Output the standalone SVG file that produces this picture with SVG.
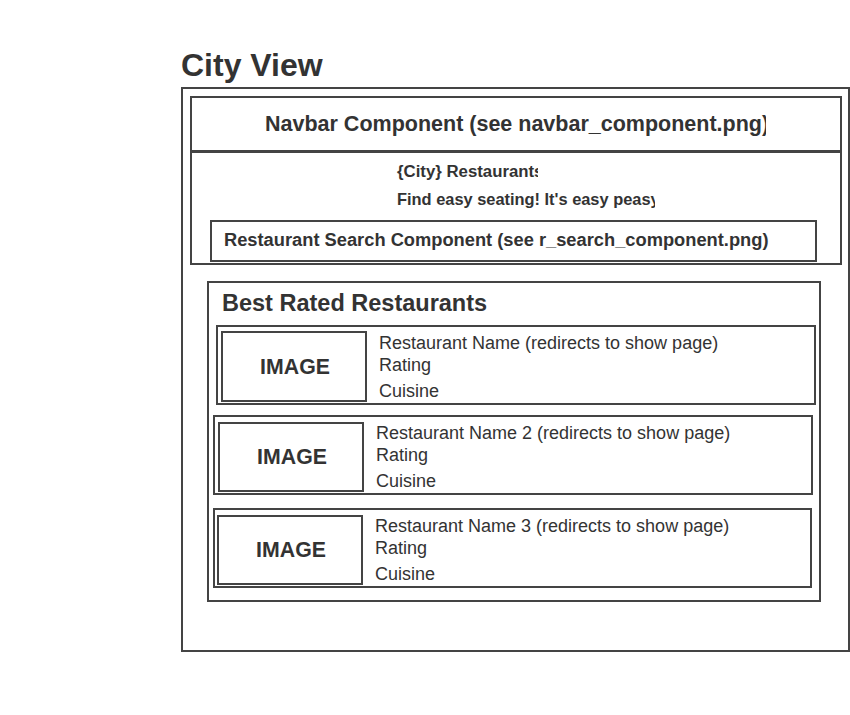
<svg xmlns="http://www.w3.org/2000/svg" width="850" height="715" viewBox="0 0 850 715">
<style>
.box{fill:none;stroke:#444;stroke-width:2}
.t{font-family:"Liberation Sans",Arial,sans-serif;fill:#333}
.b{font-weight:bold}
.r{font-size:18px}
</style>
<defs>
<clipPath id="cNav"><rect x="190" y="97" width="576" height="54"/></clipPath>
<clipPath id="cCity"><rect x="390" y="160" width="148" height="24"/></clipPath>
<clipPath id="cFind"><rect x="390" y="188" width="265" height="24"/></clipPath>
</defs>
<rect width="850" height="715" fill="#fff"/>
<text class="t b" x="181" y="76" font-size="32">City View</text>
<g id="page">
<rect class="box" x="182" y="88" width="667" height="563"/>
</g>
<g id="navbar">
<rect class="box" x="191" y="97" width="650" height="54"/>
<text class="t b" x="265" y="131" font-size="21.5" clip-path="url(#cNav)">Navbar Component (see navbar_component.png)</text>
</g>
<g id="header">
<rect class="box" x="191" y="152" width="650" height="112"/>
<text class="t b" x="397" y="177" font-size="16.8" clip-path="url(#cCity)">{City} Restaurants</text>
<text class="t b" x="397" y="205" font-size="16.4" clip-path="url(#cFind)">Find easy seating! It's easy peasy</text>
</g>
<g id="search">
<rect class="box" x="211" y="221" width="605" height="40"/>
<text class="t b" x="224" y="246" font-size="18.3">Restaurant Search Component (see r_search_component.png)</text>
</g>
<g id="best">
<rect class="box" x="208" y="282" width="612" height="319"/>
<text class="t b" x="222" y="311" font-size="23.5">Best Rated Restaurants</text>
</g>
<g id="item1">
<rect class="box" x="217" y="326" width="598" height="78"/>
<rect class="box" x="222" y="332" width="144" height="69"/>
<text class="t b" x="295" y="374" font-size="21.3" text-anchor="middle">IMAGE</text>
<text class="t r" x="379" y="349">Restaurant Name (redirects to show page)</text>
<text class="t r" x="379" y="371">Rating</text>
<text class="t r" x="379" y="397">Cuisine</text>
</g>
<g id="item2">
<rect class="box" x="214" y="416" width="598" height="78"/>
<rect class="box" x="219" y="423" width="144" height="68"/>
<text class="t b" x="292" y="464" font-size="21.3" text-anchor="middle">IMAGE</text>
<text class="t r" x="376" y="439">Restaurant Name 2 (redirects to show page)</text>
<text class="t r" x="376" y="461">Rating</text>
<text class="t r" x="376" y="487">Cuisine</text>
</g>
<g id="item3">
<rect class="box" x="214" y="509" width="597" height="78"/>
<rect class="box" x="218" y="516" width="144" height="68"/>
<text class="t b" x="291" y="557" font-size="21.3" text-anchor="middle">IMAGE</text>
<text class="t r" x="375" y="532">Restaurant Name 3 (redirects to show page)</text>
<text class="t r" x="375" y="554">Rating</text>
<text class="t r" x="375" y="580">Cuisine</text>
</g>
<g id="connectors"/>
</svg>
